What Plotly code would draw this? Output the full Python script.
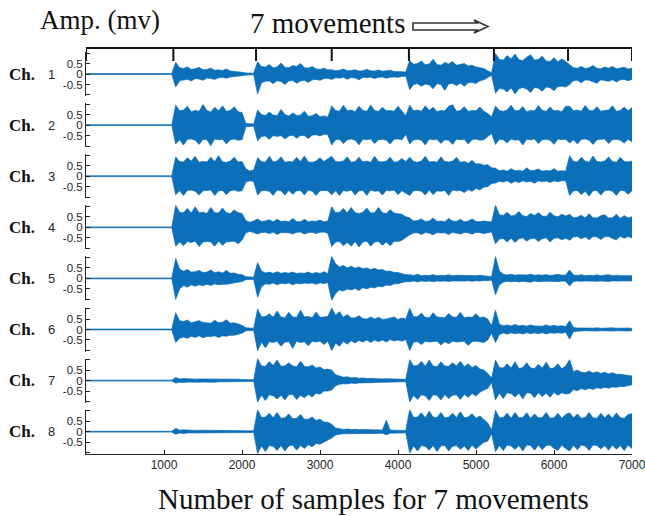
import plotly.graph_objects as go

# ---------------- data ----------------
SAMPLE_STEP = 50          # envelope read every 50 samples, 0..7000
N_POINTS = 141
MOVE_BOUNDS = [0, 1120, 2180, 3150, 4140, 5230, 6180, 7000]
X_TICKS = [1000, 2000, 3000, 4000, 5000, 6000, 7000]
Y_TICKS = [-1, -0.5, 0, 0.5, 1]
Y_TICKTEXT = ["", "-0.5", "0", "0.5", ""]
CHANNELS = ["1", "2", "3", "4", "5", "6", "7", "8"]

REST = [0.02, 0.02, 0.015, 0.02, 0.02, 0.015, 0.02, 0.02, 0.02, 0.015, 0.02, 0.02,
        0.015, 0.02, 0.02, 0.02, 0.015, 0.02, 0.02, 0.015, 0.02, 0.02, 0.02]

# upper envelope (mV) and lower envelope magnitude (mV), per channel
CH1_UP = REST + [
    0.56, 0.3, 0.26, 0.34, 0.22, 0.25, 0.32, 0.2, 0.22, 0.28, 0.18, 0.2, 0.17, 0.24, 0.14, 0.13, 0.1, 0.08,
    0.05, 0.04, 0.04,
    0.58, 0.36, 0.33, 0.45, 0.3, 0.34, 0.52, 0.32, 0.3, 0.4, 0.36, 0.5, 0.3, 0.28, 0.36, 0.24, 0.22, 0.28, 0.2,
    0.2, 0.16, 0.18, 0.24, 0.15, 0.17, 0.2, 0.14, 0.16, 0.22, 0.15, 0.14, 0.19, 0.13, 0.15, 0.18, 0.12, 0.12, 0.11, 0.1,
    0.65, 0.46, 0.5, 0.62, 0.44, 0.48, 0.7, 0.45, 0.42, 0.55, 0.48, 0.6, 0.42, 0.45, 0.5, 0.38, 0.42, 0.34, 0.3, 0.26, 0.15,
    0.06,
    0.98, 0.7, 0.66, 0.88, 0.72, 0.95, 0.68, 0.64, 0.8, 0.92, 0.66, 0.7, 0.85, 0.62, 0.6, 0.78, 0.58, 0.72, 0.6,
    0.45, 0.3, 0.28, 0.36, 0.26, 0.3, 0.4, 0.27, 0.25, 0.33, 0.28, 0.36, 0.25, 0.27, 0.32, 0.24, 0.28]
CH1_LO = REST + [
    0.62, 0.32, 0.28, 0.25, 0.33, 0.22, 0.24, 0.3, 0.19, 0.21, 0.26, 0.18, 0.16, 0.2, 0.14, 0.13, 0.1, 0.08,
    0.05, 0.04, 0.04,
    0.95, 0.42, 0.35, 0.33, 0.46, 0.32, 0.36, 0.5, 0.33, 0.31, 0.44, 0.34, 0.3, 0.4, 0.28, 0.26, 0.3, 0.22, 0.2,
    0.26, 0.18, 0.2, 0.16, 0.25, 0.17, 0.19, 0.28, 0.16, 0.18, 0.15, 0.22, 0.16, 0.14, 0.2, 0.15, 0.14, 0.16, 0.12, 0.1,
    0.75, 0.5, 0.46, 0.58, 0.48, 0.52, 0.7, 0.46, 0.5, 0.78, 0.48, 0.45, 0.55, 0.44, 0.58, 0.42, 0.4, 0.45, 0.32, 0.28, 0.18,
    0.06,
    0.92, 0.68, 0.72, 0.86, 0.66, 0.95, 0.7, 0.65, 0.72, 0.88, 0.64, 0.68, 0.82, 0.62, 0.66, 0.8, 0.6, 0.58, 0.62,
    0.5, 0.32, 0.3, 0.42, 0.28, 0.3, 0.38, 0.44, 0.28, 0.3, 0.35, 0.27, 0.38, 0.28, 0.26, 0.32, 0.26]

CH2_UP = REST + [
    0.95, 0.68, 0.72, 0.9, 0.64, 0.7, 0.66, 0.98, 0.7, 0.62, 0.85, 0.68, 0.92, 0.66, 0.7, 0.88, 0.64, 0.6,
    0.08, 0.05, 0.05,
    0.72, 0.5, 0.46, 0.62, 0.48, 0.45, 0.75, 0.5, 0.44, 0.58, 0.46, 0.48, 0.66, 0.42, 0.45, 0.55, 0.4, 0.44, 0.38,
    0.92, 0.7, 0.66, 0.95, 0.68, 0.72, 0.64, 0.9, 0.7, 0.66, 0.96, 0.7, 0.65, 0.85, 0.68, 0.7, 0.66, 0.9, 0.68, 0.45,
    0.95, 0.68, 0.72, 0.66, 0.92, 0.7, 0.85, 0.64, 0.7, 0.68, 0.9, 0.97, 0.66, 0.7, 0.88, 0.65, 0.7, 0.68, 0.86, 0.66, 0.55,
    0.4,
    0.9, 0.7, 0.66, 0.72, 0.95, 0.68, 0.7, 0.88, 0.64, 0.7, 0.68, 0.93, 0.7, 0.66, 0.86, 0.68, 0.7, 0.64, 0.9,
    0.9, 0.68, 0.72, 0.66, 0.94, 0.7, 0.68, 0.88, 0.66, 0.7, 0.72, 0.92, 0.66, 0.7, 0.86, 0.68, 0.84]
CH2_LO = REST + [
    0.9, 0.7, 0.95, 0.68, 0.66, 0.72, 0.92, 0.68, 0.7, 0.98, 0.66, 0.7, 0.68, 0.9, 0.7, 0.66, 0.72, 0.7,
    0.08, 0.05, 0.05,
    0.75, 0.55, 0.52, 0.68, 0.5, 0.54, 0.5, 0.66, 0.52, 0.48, 0.62, 0.5, 0.5, 0.64, 0.48, 0.46, 0.52, 0.44, 0.45,
    0.95, 0.7, 0.68, 0.88, 0.7, 0.66, 0.72, 0.94, 0.68, 0.7, 0.66, 0.88, 0.7, 0.68, 0.72, 0.9, 0.68, 0.66, 0.7, 0.45,
    0.9, 0.7, 0.68, 0.72, 0.95, 0.66, 0.7, 0.68, 0.88, 0.7, 0.72, 0.92, 0.66, 0.7, 0.68, 0.9, 0.7, 0.66, 0.72, 0.7, 0.55,
    0.4,
    0.92, 0.68, 0.7, 0.85, 0.66, 0.72, 0.7, 0.95, 0.68, 0.7, 0.66, 0.88, 0.7, 0.68, 0.72, 0.92, 0.66, 0.7, 0.68,
    0.85, 0.7, 0.9, 0.68, 0.66, 0.72, 0.92, 0.7, 0.68, 0.66, 0.88, 0.7, 0.68, 0.72, 0.86, 0.68, 0.8]

CH3_UP = REST + [
    0.92, 0.7, 0.68, 0.88, 0.72, 0.95, 0.66, 0.7, 0.68, 0.9, 0.7, 0.98, 0.68, 0.66, 0.72, 0.9, 0.68, 0.7,
    0.35, 0.25, 0.3,
    0.88, 0.7, 0.66, 0.95, 0.68, 0.72, 0.92, 0.66, 0.7, 0.68, 0.9, 0.7, 0.96, 0.68, 0.66, 0.72, 0.88, 0.7, 0.82,
    0.95, 0.7, 0.68, 0.72, 0.92, 0.66, 0.7, 0.9, 0.68, 0.72, 0.66, 0.95, 0.7, 0.68, 0.72, 0.9, 0.66, 0.7, 0.84, 0.7,
    0.9, 0.7, 0.66, 0.72, 0.95, 0.68, 0.7, 0.66, 0.92, 0.7, 0.68, 0.72, 0.9, 0.66, 0.7, 0.62, 0.75, 0.58, 0.6, 0.52, 0.55,
    0.4,
    0.38, 0.26, 0.3, 0.24, 0.36, 0.26, 0.28, 0.24, 0.4, 0.26, 0.28, 0.34, 0.24, 0.27, 0.25, 0.36, 0.24, 0.26, 0.24,
    0.98, 0.7, 0.68, 0.9, 0.72, 0.66, 0.96, 0.7, 0.68, 0.72, 0.92, 0.7, 0.66, 0.9, 0.7, 0.68, 0.72]
CH3_LO = REST + [
    0.88, 0.7, 0.92, 0.68, 0.66, 0.72, 0.9, 0.7, 0.68, 0.66, 0.92, 0.7, 0.68, 0.88, 0.7, 0.66, 0.72, 0.7,
    0.28, 0.22, 0.25,
    0.9, 0.7, 0.68, 0.72, 0.92, 0.66, 0.7, 0.9, 0.68, 0.86, 0.7, 0.68, 0.9, 0.66, 0.72, 0.92, 0.7, 0.68, 0.7,
    0.88, 0.7, 0.92, 0.68, 0.72, 0.66, 0.9, 0.7, 0.68, 0.92, 0.66, 0.72, 0.7, 0.9, 0.68, 0.7, 0.66, 0.88, 0.7, 0.8,
    0.92, 0.7, 0.68, 0.72, 0.9, 0.66, 0.88, 0.7, 0.72, 0.68, 0.92, 0.66, 0.7, 0.68, 0.78, 0.64, 0.72, 0.58, 0.66, 0.52, 0.5,
    0.35,
    0.32, 0.24, 0.28, 0.22, 0.34, 0.24, 0.3, 0.22, 0.28, 0.24, 0.34, 0.22, 0.26, 0.23, 0.3, 0.22, 0.26, 0.22, 0.22,
    0.92, 0.7, 0.68, 0.88, 0.72, 0.95, 0.7, 0.68, 0.9, 0.7, 0.66, 0.72, 0.92, 0.68, 0.7, 0.86, 0.7]

CH4_UP = REST + [
    1.05, 0.72, 0.7, 0.9, 0.68, 0.98, 0.7, 0.72, 0.66, 0.95, 0.7, 0.68, 0.92, 0.7, 0.66, 0.82, 0.7, 0.66,
    0.32, 0.24, 0.3,
    0.4, 0.28, 0.3, 0.36, 0.26, 0.38, 0.28, 0.3, 0.26, 0.42, 0.28, 0.27, 0.38, 0.26, 0.3, 0.28, 0.35, 0.26, 0.3,
    0.98, 0.7, 0.72, 0.9, 0.68, 0.95, 0.7, 0.66, 0.72, 0.92, 0.68, 0.7, 0.95, 0.7, 0.66, 0.84, 0.68, 0.66, 0.62, 0.5,
    0.45, 0.3, 0.32, 0.4, 0.28, 0.3, 0.44, 0.28, 0.3, 0.27, 0.42, 0.3, 0.28, 0.38, 0.26, 0.3, 0.4, 0.28, 0.27, 0.3, 0.28,
    0.25,
    1.05, 0.6, 0.56, 0.72, 0.54, 0.58, 0.75, 0.55, 0.52, 0.66, 0.56, 0.7, 0.54, 0.52, 0.72, 0.55, 0.5, 0.62, 0.54,
    0.62, 0.45, 0.48, 0.58, 0.44, 0.65, 0.46, 0.44, 0.55, 0.6, 0.44, 0.46, 0.62, 0.42, 0.56, 0.44, 0.5]
CH4_LO = REST + [
    0.9, 0.7, 0.88, 0.68, 0.72, 0.66, 0.92, 0.7, 0.68, 0.7, 0.9, 0.66, 0.86, 0.7, 0.68, 0.66, 0.78, 0.62,
    0.26, 0.2, 0.25,
    0.32, 0.25, 0.24, 0.3, 0.23, 0.34, 0.25, 0.24, 0.26, 0.32, 0.24, 0.23, 0.32, 0.25, 0.24, 0.3, 0.24, 0.23, 0.28,
    0.92, 0.7, 0.68, 0.88, 0.72, 0.9, 0.68, 0.94, 0.7, 0.66, 0.9, 0.7, 0.68, 0.86, 0.7, 0.88, 0.66, 0.68, 0.62, 0.5,
    0.36, 0.27, 0.26, 0.34, 0.25, 0.28, 0.36, 0.25, 0.27, 0.26, 0.34, 0.24, 0.28, 0.32, 0.25, 0.26, 0.33, 0.24, 0.26, 0.3, 0.25,
    0.22,
    0.78, 0.56, 0.54, 0.7, 0.52, 0.72, 0.55, 0.5, 0.66, 0.54, 0.52, 0.68, 0.54, 0.5, 0.7, 0.52, 0.5, 0.6, 0.52,
    0.62, 0.46, 0.44, 0.55, 0.45, 0.6, 0.44, 0.46, 0.58, 0.45, 0.44, 0.54, 0.6, 0.43, 0.52, 0.44, 0.5]

CH5_UP = REST + [
    0.95, 0.45, 0.34, 0.42, 0.3, 0.32, 0.38, 0.28, 0.3, 0.4, 0.27, 0.32, 0.26, 0.38, 0.24, 0.26, 0.2, 0.18,
    0.08, 0.06, 0.06,
    0.75, 0.35, 0.26, 0.3, 0.24, 0.32, 0.24, 0.28, 0.25, 0.3, 0.23, 0.26, 0.24, 0.3, 0.22, 0.28, 0.23, 0.32, 0.22,
    1.05, 0.7, 0.55, 0.62, 0.5, 0.58, 0.48, 0.55, 0.46, 0.5, 0.42, 0.48, 0.4, 0.42, 0.34, 0.35, 0.28, 0.28, 0.22, 0.18,
    0.18, 0.14, 0.2, 0.13, 0.15, 0.14, 0.18, 0.13, 0.15, 0.14, 0.17, 0.13, 0.15, 0.14, 0.16, 0.12, 0.14, 0.13, 0.15, 0.12, 0.12,
    0.08,
    1.05, 0.35, 0.2, 0.16, 0.2, 0.15, 0.18, 0.16, 0.16, 0.2, 0.15, 0.17, 0.15, 0.18, 0.14, 0.16, 0.2, 0.15, 0.16,
    0.4, 0.16, 0.14, 0.18, 0.13, 0.15, 0.13, 0.17, 0.13, 0.15, 0.18, 0.13, 0.15, 0.13, 0.14, 0.12, 0.13]
CH5_LO = REST + [
    1.0, 0.5, 0.34, 0.42, 0.3, 0.38, 0.3, 0.35, 0.28, 0.34, 0.26, 0.3, 0.28, 0.28, 0.24, 0.24, 0.18, 0.15,
    0.06, 0.05, 0.05,
    0.9, 0.4, 0.26, 0.28, 0.22, 0.3, 0.23, 0.26, 0.22, 0.3, 0.23, 0.26, 0.22, 0.24, 0.22, 0.28, 0.21, 0.25, 0.2,
    1.05, 0.72, 0.55, 0.6, 0.5, 0.55, 0.48, 0.58, 0.44, 0.5, 0.42, 0.45, 0.38, 0.4, 0.32, 0.34, 0.26, 0.26, 0.2, 0.16,
    0.16, 0.12, 0.17, 0.12, 0.15, 0.12, 0.16, 0.12, 0.14, 0.12, 0.15, 0.12, 0.14, 0.12, 0.13, 0.11, 0.14, 0.11, 0.13, 0.1, 0.11,
    0.08,
    0.78, 0.3, 0.18, 0.14, 0.16, 0.14, 0.17, 0.14, 0.15, 0.18, 0.13, 0.16, 0.14, 0.15, 0.13, 0.14, 0.16, 0.13, 0.14,
    0.36, 0.15, 0.12, 0.14, 0.12, 0.13, 0.12, 0.14, 0.12, 0.13, 0.15, 0.12, 0.13, 0.12, 0.12, 0.11, 0.12]

CH6_UP = REST + [
    0.8, 0.42, 0.38, 0.45, 0.32, 0.36, 0.42, 0.34, 0.33, 0.3, 0.44, 0.32, 0.35, 0.46, 0.3, 0.32, 0.26, 0.2,
    0.08, 0.06, 0.06,
    0.98, 0.6, 0.62, 0.75, 0.58, 0.88, 0.6, 0.56, 0.82, 0.6, 0.58, 0.92, 0.6, 0.62, 0.56, 0.84, 0.58, 0.6, 0.62,
    1.02, 0.68, 0.85, 0.58, 0.72, 0.55, 0.56, 0.66, 0.52, 0.5, 0.6, 0.5, 0.58, 0.48, 0.5, 0.55, 0.6, 0.48, 0.55, 0.5,
    1.02, 0.6, 0.62, 0.78, 0.58, 0.56, 0.8, 0.6, 0.58, 0.56, 0.76, 0.6, 0.58, 0.82, 0.56, 0.6, 0.58, 0.75, 0.56, 0.6, 0.5,
    0.18,
    0.92, 0.25, 0.18, 0.22, 0.17, 0.24, 0.17, 0.2, 0.16, 0.22, 0.17, 0.18, 0.16, 0.22, 0.16, 0.2, 0.16, 0.18, 0.14,
    0.42, 0.1, 0.07, 0.08, 0.06, 0.07, 0.06, 0.08, 0.06, 0.07, 0.06, 0.08, 0.06, 0.07, 0.06, 0.07, 0.05]
CH6_LO = REST + [
    0.62, 0.42, 0.36, 0.42, 0.32, 0.38, 0.3, 0.4, 0.32, 0.34, 0.3, 0.38, 0.3, 0.32, 0.28, 0.28, 0.22, 0.18,
    0.06, 0.05, 0.05,
    1.02, 0.6, 0.88, 0.58, 0.62, 0.56, 0.8, 0.6, 0.58, 0.9, 0.56, 0.62, 0.58, 0.78, 0.56, 0.6, 0.55, 0.72, 0.56,
    1.0, 0.66, 0.8, 0.56, 0.7, 0.54, 0.64, 0.52, 0.6, 0.5, 0.62, 0.5, 0.58, 0.5, 0.6, 0.48, 0.55, 0.5, 0.56, 0.48,
    1.0, 0.6, 0.58, 0.72, 0.56, 0.6, 0.58, 0.56, 0.74, 0.58, 0.68, 0.56, 0.6, 0.58, 0.56, 0.76, 0.58, 0.56, 0.6, 0.62, 0.5,
    0.18,
    0.62, 0.24, 0.17, 0.22, 0.16, 0.2, 0.17, 0.22, 0.15, 0.2, 0.16, 0.2, 0.15, 0.21, 0.16, 0.18, 0.15, 0.18, 0.13,
    0.46, 0.1, 0.07, 0.07, 0.06, 0.08, 0.06, 0.07, 0.06, 0.07, 0.06, 0.07, 0.06, 0.06, 0.06, 0.07, 0.05]

CH7_UP = REST + [
    0.15, 0.08, 0.1, 0.08, 0.09, 0.07, 0.08, 0.08, 0.09, 0.07, 0.08, 0.07, 0.08, 0.07, 0.07, 0.06, 0.07, 0.05,
    0.05, 0.04, 0.04,
    1.05, 0.7, 0.68, 0.9, 0.72, 0.98, 0.68, 0.7, 0.85, 0.7, 0.66, 0.92, 0.68, 0.65, 0.75, 0.6, 0.65, 0.52, 0.55,
    0.5, 0.28, 0.22, 0.16, 0.18, 0.13, 0.15, 0.11, 0.13, 0.1, 0.11, 0.09, 0.1, 0.08, 0.09, 0.08, 0.08, 0.07, 0.07, 0.06,
    1.0, 0.7, 0.72, 0.92, 0.68, 0.98, 0.7, 0.66, 0.9, 0.7, 0.68, 0.85, 0.7, 0.92, 0.66, 0.8, 0.62, 0.72, 0.55, 0.5, 0.35,
    0.12,
    0.98, 0.62, 0.6, 0.8, 0.6, 0.9, 0.58, 0.62, 0.85, 0.6, 0.58, 0.78, 0.6, 0.88, 0.58, 0.6, 0.8, 0.56, 0.7,
    1.0, 0.42, 0.5, 0.4, 0.38, 0.46, 0.36, 0.42, 0.34, 0.4, 0.32, 0.38, 0.3, 0.3, 0.28, 0.26, 0.22]
CH7_LO = REST + [
    0.12, 0.08, 0.09, 0.07, 0.08, 0.07, 0.08, 0.07, 0.07, 0.07, 0.08, 0.06, 0.07, 0.06, 0.07, 0.06, 0.06, 0.05,
    0.04, 0.04, 0.04,
    1.02, 0.7, 0.95, 0.68, 0.72, 0.88, 0.7, 0.92, 0.68, 0.66, 0.9, 0.7, 0.82, 0.66, 0.78, 0.6, 0.65, 0.5, 0.5,
    0.45, 0.24, 0.18, 0.15, 0.16, 0.12, 0.14, 0.11, 0.12, 0.1, 0.1, 0.09, 0.09, 0.08, 0.08, 0.07, 0.07, 0.06, 0.06, 0.05,
    1.02, 0.7, 0.9, 0.68, 0.72, 0.95, 0.68, 0.7, 0.92, 0.66, 0.86, 0.7, 0.68, 0.9, 0.66, 0.8, 0.62, 0.74, 0.56, 0.45, 0.38,
    0.1,
    0.92, 0.6, 0.85, 0.58, 0.62, 0.78, 0.6, 0.88, 0.58, 0.6, 0.82, 0.58, 0.76, 0.6, 0.8, 0.56, 0.7, 0.58, 0.64,
    0.62, 0.42, 0.48, 0.38, 0.44, 0.36, 0.42, 0.34, 0.38, 0.32, 0.36, 0.3, 0.32, 0.28, 0.28, 0.24, 0.2]

CH8_UP = REST + [
    0.16, 0.07, 0.09, 0.07, 0.08, 0.06, 0.07, 0.07, 0.08, 0.06, 0.07, 0.06, 0.07, 0.06, 0.06, 0.05, 0.06, 0.05,
    0.04, 0.04, 0.04,
    1.05, 0.68, 0.7, 0.88, 0.66, 0.92, 0.64, 0.66, 0.85, 0.62, 0.64, 0.82, 0.6, 0.6, 0.7, 0.54, 0.6, 0.46, 0.45,
    0.35, 0.18, 0.14, 0.11, 0.13, 0.1, 0.12, 0.09, 0.1, 0.09, 0.09, 0.08, 0.09, 0.08, 0.55, 0.08, 0.07, 0.07, 0.07, 0.06,
    1.05, 0.68, 0.7, 0.9, 0.66, 0.98, 0.7, 0.68, 0.92, 0.66, 0.7, 0.88, 0.68, 0.95, 0.66, 0.7, 0.86, 0.64, 0.75, 0.58, 0.42,
    0.08,
    1.02, 0.66, 0.68, 0.88, 0.64, 0.92, 0.66, 0.68, 0.9, 0.64, 0.85, 0.66, 0.68, 0.92, 0.64, 0.66, 0.88, 0.64, 0.82,
    0.9, 0.66, 0.85, 0.64, 0.68, 0.92, 0.66, 0.64, 0.88, 0.66, 0.84, 0.64, 0.9, 0.66, 0.64, 0.82, 0.86]
CH8_LO = REST + [
    0.12, 0.06, 0.08, 0.06, 0.07, 0.06, 0.07, 0.06, 0.06, 0.06, 0.07, 0.05, 0.06, 0.05, 0.06, 0.05, 0.05, 0.05,
    0.04, 0.04, 0.04,
    1.05, 0.68, 0.95, 0.66, 0.7, 0.9, 0.66, 0.92, 0.68, 0.64, 0.88, 0.66, 0.8, 0.62, 0.72, 0.56, 0.6, 0.48, 0.4,
    0.3, 0.16, 0.12, 0.1, 0.11, 0.09, 0.1, 0.09, 0.09, 0.08, 0.09, 0.08, 0.08, 0.07, 0.15, 0.07, 0.07, 0.06, 0.06, 0.05,
    1.02, 0.68, 0.92, 0.66, 0.7, 0.88, 0.66, 0.95, 0.68, 0.66, 0.92, 0.7, 0.66, 0.84, 0.68, 0.9, 0.64, 0.82, 0.66, 0.5, 0.45,
    0.1,
    0.95, 0.66, 0.9, 0.64, 0.68, 0.85, 0.66, 0.92, 0.64, 0.66, 0.88, 0.64, 0.86, 0.66, 0.64, 0.8, 0.9, 0.64, 0.8,
    0.92, 0.66, 0.86, 0.64, 0.68, 0.9, 0.64, 0.66, 0.82, 0.66, 0.88, 0.64, 0.84, 0.66, 0.9, 0.64, 0.8]

UPPER = [CH1_UP, CH2_UP, CH3_UP, CH4_UP, CH5_UP, CH6_UP, CH7_UP, CH8_UP]
LOWER = [CH1_LO, CH2_LO, CH3_LO, CH4_LO, CH5_LO, CH6_LO, CH7_LO, CH8_LO]
for _u, _l in zip(UPPER, LOWER):
    assert len(_u) == N_POINTS and len(_l) == N_POINTS, (len(_u), len(_l))

SAMPLES = [i * SAMPLE_STEP for i in range(N_POINTS)]

# ---------------- layout helpers ----------------
W, H = 645, 516
PL, PR, PT, PB = 86, 632, 48, 454   # plot area in pixels
BLUE = "#0b6fba"
TXT = "#262626"


def px(xp):
    return (xp - PL) / (PR - PL)


def py(yp):
    return (PB - yp) / (PB - PT)


ZERO0, ROW_GAP, HALF = 74.0, 51.1, 22.0

fig = go.Figure()
layout = dict(
    width=W, height=H,
    margin=dict(l=PL, r=W - PR, t=PT, b=H - PB, pad=0, autoexpand=False),
    paper_bgcolor="white", plot_bgcolor="white",
    showlegend=False,
    font=dict(family="Liberation Sans, Arial", size=11, color=TXT),
)
annotations = []
shapes = []

for k in range(8):
    sfx = "" if k == 0 else str(k + 1)
    z = ZERO0 + ROW_GAP * k
    dom = [py(z + HALF), py(z - HALF)]
    up = UPPER[k]
    lo = LOWER[k]
    fig.add_trace(go.Scatter(
        x=SAMPLES + SAMPLES[::-1],
        y=up + [-v for v in lo[::-1]],
        mode="lines", fill="toself", fillcolor=BLUE,
        line=dict(color=BLUE, width=0.7),
        xaxis="x" + sfx, yaxis="y" + sfx, hoverinfo="skip",
    ))
    layout["yaxis" + sfx] = dict(
        domain=dom, range=[-1.05, 1.05], anchor="x" + sfx, automargin=False,
        tickmode="array", tickvals=Y_TICKS, ticktext=Y_TICKTEXT,
        ticks="inside", ticklen=4, tickcolor="#222", tickwidth=1,
        showline=True, linecolor="#222", linewidth=1,
        showgrid=False, zeroline=False, fixedrange=True,
        tickfont=dict(family="Liberation Sans, Arial", size=11.5, color=TXT),
    )
    xa = dict(domain=[0, 1], range=[0, 7000], anchor="y" + sfx, automargin=False,
              showgrid=False, zeroline=False, fixedrange=True)
    if k < 7:
        xa.update(visible=False)
    else:
        xa.update(showline=True, linecolor="#222", linewidth=1,
                  tickmode="array", tickvals=X_TICKS,
                  ticks="inside", ticklen=4, tickcolor="#222",
                  ticklabeloverflow="allow",
                  tickfont=dict(family="Liberation Sans, Arial", size=12, color=TXT))
    layout["xaxis" + sfx] = xa

    annotations.append(dict(text="<b>Ch.</b>", xref="paper", yref="paper",
                            x=px(22), y=py(z), showarrow=False,
                            xanchor="center", yanchor="middle",
                            font=dict(family="Liberation Serif, Times New Roman", size=17, color="#111")))
    annotations.append(dict(text=CHANNELS[k], xref="paper", yref="paper",
                            x=px(51), y=py(z), showarrow=False,
                            xanchor="center", yanchor="middle",
                            font=dict(family="Liberation Sans, Arial", size=13, color=TXT)))

# top bracket marking the 7 movements
shapes.append(dict(type="line", xref="x", yref="paper",
                   x0=MOVE_BOUNDS[0], x1=MOVE_BOUNDS[-1], y0=py(48), y1=py(48),
                   line=dict(color="#111", width=2)))
for b in MOVE_BOUNDS:
    shapes.append(dict(type="line", xref="x", yref="paper",
                       x0=b, x1=b, y0=py(48), y1=py(61),
                       line=dict(color="#111", width=2)))

# outlined double arrow after "7 movements"
arrow_pts = [(413, 23.0), (477, 23.0), (474, 20.0), (488, 26.5), (474, 33.0),
             (477, 30.0), (413, 30.0)]
path = "M " + " L ".join(f"{px(a):.4f},{py(b):.4f}" for a, b in arrow_pts) + " Z"
shapes.append(dict(type="path", xref="paper", yref="paper", path=path,
                   line=dict(color="#333", width=1.6), fillcolor="white"))

annotations += [
    dict(text="Amp. (mv)", xref="paper", yref="paper", x=px(100), y=py(20),
         showarrow=False, xanchor="center", yanchor="middle",
         font=dict(family="Liberation Serif, Times New Roman", size=27, color="#111")),
    dict(text="7 movements", xref="paper", yref="paper", x=px(327), y=py(23),
         showarrow=False, xanchor="center", yanchor="middle",
         font=dict(family="Liberation Serif, Times New Roman", size=29, color="#111")),
    dict(text="Number of samples for 7 movements", xref="paper", yref="paper",
         x=px(373), y=py(499), showarrow=False, xanchor="center", yanchor="middle",
         font=dict(family="Liberation Serif, Times New Roman", size=29, color="#111")),
]

layout["annotations"] = annotations
layout["shapes"] = shapes
fig.update_layout(**layout)
fig.write_html("out.html",
               config={"displayModeBar": False, "staticPlot": True},
               post_script="document.body.style.margin='0';document.body.style.overflow='hidden';")
